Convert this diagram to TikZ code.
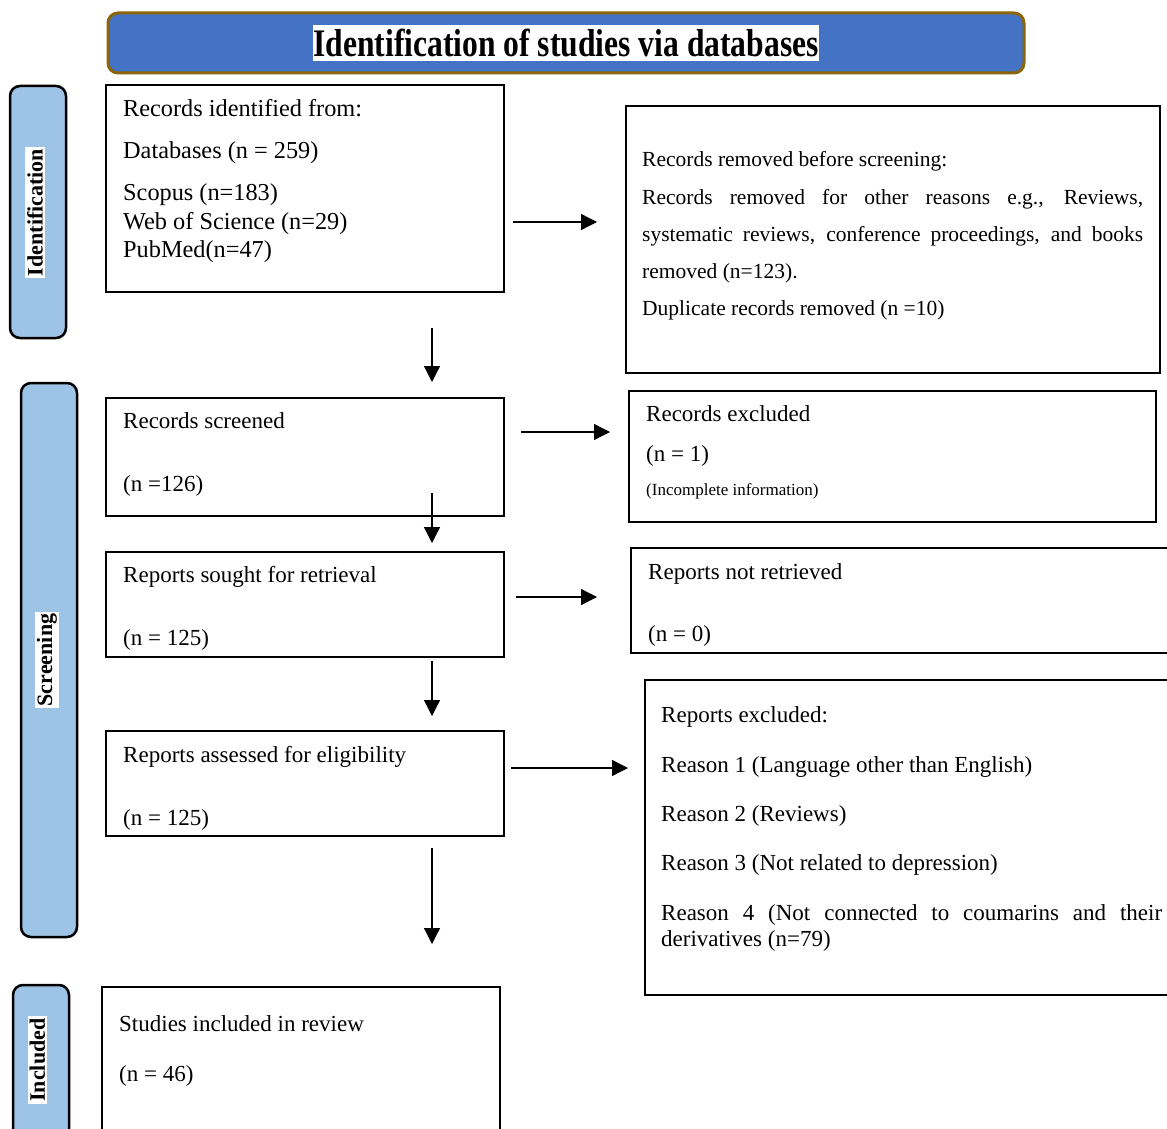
\documentclass[tikz,border=0pt]{standalone}
\usepackage{graphicx}
\usepackage{fontspec}
\setmainfont{Liberation Serif}
\usetikzlibrary{arrows.meta}
\definecolor{banner}{HTML}{4472C4}
\definecolor{bannerline}{HTML}{8B6508}
\definecolor{side}{HTML}{9DC3E6}
\begin{document}
\begin{tikzpicture}[x=1pt,y=-1pt,
  box/.style={draw, line width=2.6pt, rectangle, inner sep=0pt, outer sep=0pt, anchor=north west},
  sidebar/.style={draw, line width=2.5pt, fill=side, rounded corners=10pt, inner sep=0pt, outer sep=0pt, anchor=north west},
  txt/.style={inner sep=0pt, anchor=base west, font=\fontsize{23}{27}\selectfont},
  btxt/.style={txt, font=\fontsize{24.3}{28}\selectfont},
  stxt/.style={txt, font=\fontsize{21.5}{25}\selectfont},
  tinytxt/.style={txt, font=\fontsize{17}{20}\selectfont},
  sidelabel/.style={fill=white, inner sep=2pt, rotate=90, font=\fontsize{22}{26}\selectfont\bfseries},
  arr/.style={line width=1.3pt, -{Triangle[length=16pt,width=16pt]}}]
\useasboundingbox (0,0) rectangle (1167,1129);
\clip (0,0) rectangle (1167,1129);

% banner
\node[draw=bannerline, line width=3pt, fill=banner, rounded corners=10pt, minimum width=916pt, minimum height=60pt, inner sep=0pt, outer sep=0pt, anchor=north west] (ban) at (108,13) {};
\node[fill=white, inner sep=0pt, minimum width=504pt, minimum height=36pt] (title) at (566,43) {\scalebox{0.81}[1]{\fontsize{39}{39}\selectfont\bfseries Identification of studies via databases}};

% side bars
\node[sidebar, minimum width=56pt, minimum height=252pt] (sb1) at (10,86) {};
\node[sidelabel] (sl1) at (35,212.5) {Identification};
\node[sidebar, minimum width=56pt, minimum height=554pt] (sb2) at (21,383) {};
\node[sidelabel] (sl2) at (47,660) {Screening};
\node[sidebar, minimum width=56pt, minimum height=200pt] (sb3) at (13,985) {};
\node[sidelabel] (sl3) at (37.5,1060) {Included};

% left boxes
\node[box, minimum width=398pt, minimum height=207pt] (B1) at (106,85) {};
\node[btxt] (t1a) at (123,117) {Records identified from:};
\node[btxt] (t1b) at (123,158) {Databases (n = 259)};
\node[btxt] (t1c) at (123,200) {Scopus (n=183)};
\node[btxt] (t1d) at (123,229) {Web of Science (n=29)};
\node[btxt] (t1e) at (123,257) {PubMed(n=47)};

\node[box, minimum width=398pt, minimum height=118pt] (B2) at (106,398) {};
\node[txt] (t2a) at (123,428) {Records screened};
\node[txt] (t2b) at (123,491) {(n =126)};

\node[box, minimum width=398pt, minimum height=105pt] (B3) at (106,552) {};
\node[txt] (t3a) at (123,582) {Reports sought for retrieval};
\node[txt] (t3b) at (123,645) {(n = 125)};

\node[box, minimum width=398pt, minimum height=105pt] (B4) at (106,731) {};
\node[txt] (t4a) at (123,762) {Reports assessed for eligibility};
\node[txt] (t4b) at (123,825) {(n = 125)};

\node[box, minimum width=398pt, minimum height=200pt] (B5) at (102,987) {};
\node[txt] (t5a) at (119,1031) {Studies included in review};
\node[txt] (t5b) at (119,1081) {(n = 46)};

% right boxes
\node[box, minimum width=534pt, minimum height=267pt] (R1) at (626,106) {};
\node[stxt] (r1a) at (642,167) {Records removed before screening:};
\node[stxt] (r1b) at (642,204) {\makebox[501pt][s]{Records removed for other reasons e.g., Reviews,}};
\node[stxt] (r1c) at (642,241) {\makebox[501pt][s]{systematic reviews, conference proceedings, and books}};
\node[stxt] (r1d) at (642,278) {removed (n=123).};
\node[stxt] (r1e) at (642,315) {Duplicate records removed (n =10)};

\node[box, minimum width=527pt, minimum height=131pt] (R2) at (629,391) {};
\node[txt] (r2a) at (646,421) {Records excluded};
\node[txt] (r2b) at (646,461) {(n = 1)};
\node[tinytxt] (r2c) at (646,495) {(Incomplete information)};

\node[box, minimum width=560pt, minimum height=105pt] (R3) at (631,548) {};
\node[txt] (r3a) at (648,579) {Reports not retrieved};
\node[txt] (r3b) at (648,641) {(n = 0)};

\node[box, minimum width=560pt, minimum height=315pt] (R4) at (645,680) {};
\node[txt] (r4a) at (661,722) {Reports excluded:};
\node[txt] (r4b) at (661,772) {Reason 1 (Language other than English)};
\node[txt] (r4c) at (661,821) {Reason 2 (Reviews)};
\node[txt] (r4d) at (661,870) {Reason 3 (Not related to depression)};
\node[txt] (r4e) at (661,920) {\makebox[501pt][s]{Reason 4 (Not connected to coumarins and their}};
\node[txt] (r4f) at (661,946) {derivatives (n=79)};

% arrows
\coordinate (ax) at (432,0);
\coordinate (h1) at (0,222);
\coordinate (h2) at (0,432);
\coordinate (h3) at (0,597);
\coordinate (h4) at (0,768);
\draw[arr, shorten <=36pt, shorten >=16pt] (B1.south -| ax) -- (B2.north -| ax);
\draw[arr, shorten <=-23pt, shorten >=9pt] (B2.south -| ax) -- (B3.north -| ax);
\draw[arr, shorten <=4pt, shorten >=15pt] (B3.south -| ax) -- (B4.north -| ax);
\draw[arr, shorten <=12pt, shorten >=43pt] (B4.south -| ax) -- (B5.north -| ax);
\draw[arr, shorten <=9pt, shorten >=29pt] (B1.east |- h1) -- (R1.west |- h1);
\draw[arr, shorten <=17pt, shorten >=19pt] (B2.east |- h2) -- (R2.west |- h2);
\draw[arr, shorten <=12pt, shorten >=34pt] (B3.east |- h3) -- (R3.west |- h3);
\draw[arr, shorten <=7pt, shorten >=17pt] (B4.east |- h4) -- (R4.west |- h4);
\end{tikzpicture}
\end{document}
